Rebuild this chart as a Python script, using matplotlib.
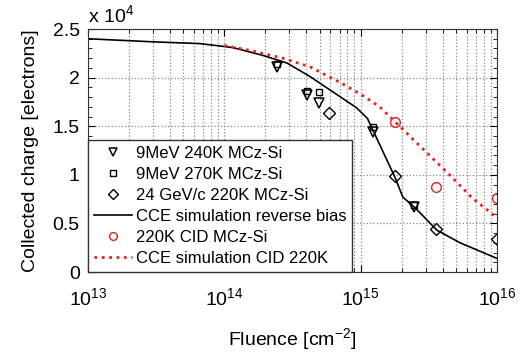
import numpy as np
import matplotlib
matplotlib.use("Agg")
import matplotlib.pyplot as plt
from matplotlib.ticker import LogLocator, MultipleLocator, NullFormatter, FuncFormatter

plt.rcParams.update({
    "font.family": ["Liberation Sans", "DejaVu Sans"],
    "mathtext.fontset": "custom", "mathtext.rm": "Liberation Sans",
    "mathtext.it": "Liberation Sans:italic", "mathtext.bf": "Liberation Sans:bold",
    "font.size": 12,
    "xtick.direction": "in", "ytick.direction": "in",
    "xtick.top": True, "ytick.right": True,
})

# charge values in units of 1e4 electrons
flu_240 = [2.44e14, 4.05e14, 4.95e14, 1.23e15, 2.45e15]
q_240 = [2.11, 1.82, 1.74, 1.44, 0.67]
flu_270 = [2.44e14, 4.05e14, 4.95e14, 1.23e15, 2.45e15]
q_270 = [2.14, 1.86, 1.85, 1.49, 0.69]
flu_24gev = [5.86e14, 1.78e15, 3.6e15, 1e16]
q_24gev = [1.64, 0.99, 0.44, 0.34]
flu_cid = [1.78e15, 3.6e15, 1e16]
q_cid = [1.54, 0.87, 0.76]

sim_rb_logf = [13.0, 13.45, 13.82, 14.06, 14.28, 14.46, 14.63, 14.80, 14.97, 15.05,
               15.09, 15.25, 15.31, 15.40, 15.56, 15.73, 16.0]
sim_rb_q = [2.40, 2.37, 2.35, 2.31, 2.23, 2.15, 2.01, 1.85, 1.69, 1.58,
            1.46, 0.98, 0.77, 0.66, 0.43, 0.30, 0.14]
sim_cid_logf = [14.0, 14.19, 14.43, 14.63, 14.85, 15.0, 15.14, 15.25, 15.44, 15.66, 15.82, 16.0]
sim_cid_q = [2.33, 2.28, 2.20, 2.11, 1.95, 1.83, 1.70, 1.55, 1.29, 0.99, 0.76, 0.56]

fig = plt.figure(figsize=(5.22, 3.54), dpi=100)
ax = fig.add_axes([0.1686, 0.2316, 0.7834, 0.6864])

ax.plot(flu_240, q_240, "v", ms=7, mfc="none", mec="k", mew=1.1, label="9MeV 240K MCz-Si")
ax.plot(flu_270, q_270, "s", ms=5, mfc="none", mec="k", mew=1.0, label="9MeV 270K MCz-Si")
ax.plot(flu_24gev, q_24gev, "D", ms=6, mfc="none", mec="k", mew=1.0, label="24 GeV/c 220K MCz-Si")
ax.plot(10 ** np.array(sim_rb_logf), sim_rb_q, "-", c="k", lw=1.2, label="CCE simulation reverse bias")
ax.plot(flu_cid, q_cid, "o", ms=7, mfc="none", mec="#e8201e", mew=1.0, label="220K CID MCz-Si")
ax.plot(10 ** np.array(sim_cid_logf), sim_cid_q, ":", c="#e8201e", lw=2.0, label="CCE simulation CID 220K")

ax.set_xscale("log")
ax.set_xlim(1e13, 1e16)
ax.set_ylim(0, 2.5)
ax.xaxis.set_major_locator(LogLocator(base=10, numticks=10))
ax.xaxis.set_minor_locator(LogLocator(base=10, subs=np.arange(2, 10), numticks=10))
ax.xaxis.set_minor_formatter(NullFormatter())
ax.yaxis.set_major_locator(MultipleLocator(0.5))
ax.yaxis.set_minor_locator(MultipleLocator(0.1))
ax.yaxis.set_major_formatter(FuncFormatter(lambda v, p: "%g" % round(v, 2)))
ax.tick_params(which="major", length=5, labelsize=14, pad=6)
ax.tick_params(axis="x", which="major", pad=11)
ax.tick_params(which="minor", length=3)
ax.grid(True, which="major", ls=":", c="#888888", lw=0.9)
ax.grid(True, which="minor", axis="x", ls=":", c="#888888", lw=0.9)
for s in ax.spines.values():
    s.set_color("#333333")

ax.set_xlabel("Fluence [cm$^{-2}$]", fontsize=14, labelpad=12)
ax.set_ylabel("Collected charge [electrons]", fontsize=14, labelpad=10)
ax.text(0.0, 1.01, "x 10$^4$", transform=ax.transAxes, fontsize=14, ha="left", va="bottom")

leg = ax.legend(loc="lower left", borderaxespad=0, fancybox=False, framealpha=1,
                edgecolor="#333333", fontsize=12, handlelength=2.3, handletextpad=0.2,
                labelspacing=0.36, borderpad=0.35, markerscale=0.8)
leg.get_frame().set_linewidth(1.0)

fig.savefig("out.png", dpi=100)
